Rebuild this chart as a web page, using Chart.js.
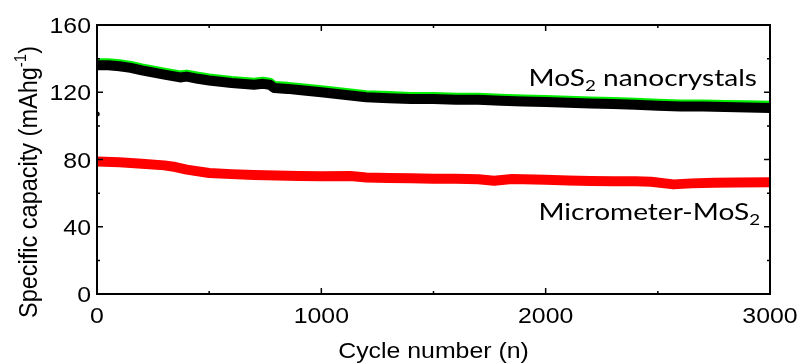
<!DOCTYPE html>
<html lang="en">
<head>
    <meta charset="UTF-8">
    <script src="https://cdn.jsdelivr.net/npm/chart.js"></script>
    <title>Specific capacity vs cycle number</title>
    <style>
        html, body { margin: 0; padding: 0; background: #fff; }
        #wrap { width: 800px; height: 364px; }
    </style>
</head>
<body>
    <div id="wrap"><canvas id="myChart"></canvas></div>
    <script>
        // values
        let nanoCycles = [1, 50, 100, 150, 200, 300, 370, 400, 450, 500, 600, 700, 740, 770, 790, 850, 900, 1000, 1100, 1200, 1300, 1400, 1500, 1600, 1700, 1800, 1900, 2000, 2100, 2200, 2300, 2400, 2500, 2600, 2700, 2800, 2900, 3000];
        let nanoDischarge = [136, 136, 135.5, 134.5, 133, 130.5, 128.8, 129.3, 128, 127, 125.5, 124.5, 125, 124.5, 122.5, 122, 121.3, 120, 118.5, 117, 116.5, 116, 116, 115.5, 115.5, 115, 114.5, 114.2, 113.8, 113.3, 113, 112.5, 112, 111.5, 111.5, 111.2, 111, 110.7];
        let nanoCharge = [137.5, 137.5, 137, 136, 134.5, 132, 130.3, 130.8, 129.5, 128.5, 127, 126, 126.5, 126, 124, 123.5, 122.8, 121.5, 120, 118.5, 118, 117.5, 117.5, 117, 117, 116.5, 116, 115.7, 115.3, 114.8, 114.5, 114, 113.5, 113, 113, 112.7, 112.5, 112.2];
        let firstCycle = [1];
        let firstCycleValue = [107];

        let microCycles = [1, 100, 200, 300, 350, 400, 500, 600, 700, 800, 900, 1000, 1130, 1200, 1300, 1400, 1500, 1600, 1700, 1770, 1850, 1900, 2000, 2100, 2200, 2300, 2400, 2470, 2570, 2650, 2750, 2850, 3000];
        let microValues = [78.8, 78.3, 77.5, 76.5, 75.5, 74, 72, 71.3, 70.8, 70.5, 70.2, 70, 70.2, 69.3, 69, 68.8, 68.6, 68.5, 68.3, 67.4, 68.4, 68.2, 67.9, 67.5, 67.2, 67, 67, 66.8, 65.2, 65.8, 66.2, 66.3, 66.5];

        let xMajor = [0, 1000, 2000, 3000];
        let xMinor = [500, 1500, 2500];
        let yMajor = [0, 40, 80, 120, 160];
        let yMinor = [20, 60, 100, 140];

        function pts(xs, ys) {
            return xs.map(function (x, i) { return { x: x, y: ys[i] }; });
        }

        let ARIAL = '"Liberation Sans", Arial, sans-serif';
        let STRETCH = 1.13;  // the source figure is a little wider than tall

        // box + inward ticks + texts
        let framePlugin = {
            id: 'frame',
            afterDatasetsDraw: function (chart) {
                let c = chart.ctx;
                let a = chart.chartArea;
                let xs = chart.scales.x, ys = chart.scales.y;
                c.save();
                c.strokeStyle = '#000';
                c.lineWidth = 2;
                c.strokeRect(a.left, a.top, a.right - a.left, a.bottom - a.top);
                c.lineWidth = 1.5;
                c.beginPath();
                function xt(v, len) {
                    let p = xs.getPixelForValue(v);
                    c.moveTo(p, a.bottom); c.lineTo(p, a.bottom - len);
                    c.moveTo(p, a.top); c.lineTo(p, a.top + len);
                }
                function yt(v, len) {
                    let p = ys.getPixelForValue(v);
                    c.moveTo(a.left, p); c.lineTo(a.left + len, p);
                    c.moveTo(a.right, p); c.lineTo(a.right - len, p);
                }
                xMajor.forEach(function (v) { xt(v, 6); });
                xMinor.forEach(function (v) { xt(v, 3); });
                yMajor.forEach(function (v) { yt(v, 6); });
                yMinor.forEach(function (v) { yt(v, 3); });
                c.stroke();

                c.fillStyle = '#000';
                c.textBaseline = 'alphabetic';
                function sText(str, x, y, align, font) {
                    c.save();
                    c.translate(x, y);
                    c.scale(STRETCH, 1);
                    c.font = font;
                    c.textAlign = align;
                    c.fillText(str, 0, 0);
                    c.restore();
                }

                // tick labels
                xMajor.forEach(function (v) { sText(String(v), xs.getPixelForValue(v), 323, 'center', '22px ' + ARIAL); });
                yMajor.forEach(function (v) { sText(String(v), 91, ys.getPixelForValue(v) + 8, 'right', '22px ' + ARIAL); });

                // x title
                sText('Cycle number (n)', (a.left + a.right) / 2, 358, 'center', '22px ' + ARIAL);

                // y title with superscript
                c.save();
                c.translate(37, 182);
                c.scale(STRETCH, 1);
                c.rotate(-Math.PI / 2);
                let big = '23.5px ' + ARIAL;
                let small = '15px ' + ARIAL;
                let t1 = 'Specific capacity (mAhg', t2 = '-1', t3 = ')';
                c.font = big; let w1 = c.measureText(t1).width, w3 = c.measureText(t3).width;
                c.font = small; let w2 = c.measureText(t2).width;
                let sx = -(w1 + w2 + w3) / 2;
                c.textAlign = 'left';
                c.font = big; c.fillText(t1, sx, 0);
                c.font = small; c.fillText(t2, sx + w1, -10);
                c.font = big; c.fillText(t3, sx + w1 + w2, 0);
                c.restore();

                // series labels with subscript 2
                function subLabel(parts, right, base) {
                    let f = '24px Lato, "Open Sans", sans-serif';
                    let fs = '16px Lato, "Open Sans", sans-serif';
                    let ws = parts.map(function (p) { c.font = p[1] ? fs : f; return c.measureText(p[0]).width; });
                    let total = ws.reduce(function (s, w) { return s + w; }, 0);
                    c.save();
                    c.translate(right, base);
                    c.scale(1.17, 1);
                    let x = -total;
                    c.textAlign = 'left';
                    parts.forEach(function (p, i) {
                        c.font = p[1] ? fs : f;
                        c.fillText(p[0], x, p[1] ? 5 : 0);
                        x += ws[i];
                    });
                    c.restore();
                }
                subLabel([['MoS', false], ['2', true], [' nanocrystals', false]], 757, 86);
                subLabel([['Micrometer-MoS', false], ['2', true]], 760, 220);
                c.restore();
            }
        };

        let ctx = document.getElementById('myChart');
        let configs = {
            type: 'line',
            data: {
                datasets: [
                    { label: 'nano charge', data: pts(nanoCycles, nanoCharge), borderColor: '#00ee00', borderWidth: 9, pointRadius: 0, order: 3 },
                    { label: 'nano discharge', data: pts(nanoCycles, nanoDischarge), borderColor: '#000000', borderWidth: 10, pointRadius: 0, order: 2 },
                    { label: 'first cycle', data: pts(firstCycle, firstCycleValue), showLine: false, pointRadius: 2.5, pointBackgroundColor: '#000', pointBorderWidth: 0, order: 1 },
                    { label: 'micro', data: pts(microCycles, microValues), borderColor: '#ff0000', borderWidth: 10, pointRadius: 0, order: 1 }
                ]
            },
            options: {
                responsive: true,
                maintainAspectRatio: false,
                animation: false,
                layout: { padding: { left: 0, right: 30, top: 25, bottom: 0 } },
                plugins: { legend: { display: false }, tooltip: { enabled: false } },
                elements: { line: { tension: 0, borderJoinStyle: 'round', borderCapStyle: 'butt' } },
                scales: {
                    x: {
                        type: 'linear', min: 0, max: 3000,
                        afterFit: function (s) { s.height = 70; },
                        grid: { display: false },
                        border: { display: false },
                        ticks: { display: false }
                    },
                    y: {
                        min: 0, max: 160,
                        afterFit: function (s) { s.width = 97; },
                        grid: { display: false },
                        border: { display: false },
                        ticks: { display: false }
                    }
                }
            },
            plugins: [framePlugin]
        };
        let myChart = new Chart(ctx, configs);
    </script>
</body>
</html>
